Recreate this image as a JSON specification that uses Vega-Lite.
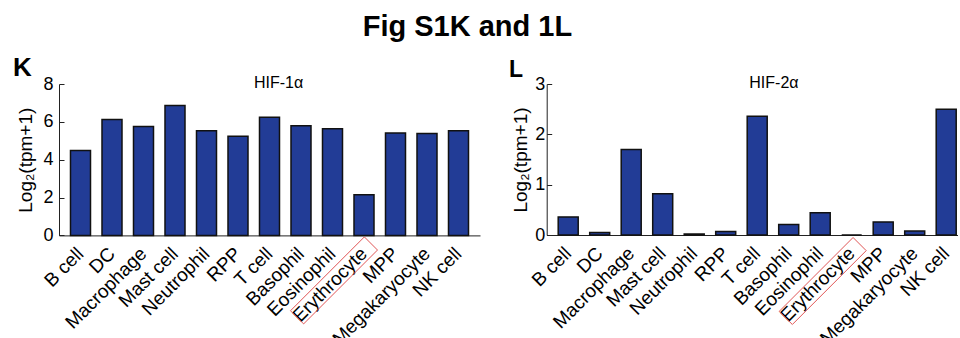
{
  "$schema": "https://vega.github.io/schema/vega-lite/v6.json",
  "background": "white",
  "padding": {"left": 13, "top": 13, "right": 0, "bottom": 0},
  "title": {"text": "Fig S1K and 1L", "fontSize": 29, "fontWeight": "bold", "font": "Liberation Sans", "anchor": "middle", "color": "#000", "offset": -10, "baseline": "alphabetic", "dx": -18},
  "datasets": {
    "hif1": [
      {"cell": "B cell", "value": 4.49},
      {"cell": "DC", "value": 6.13},
      {"cell": "Macrophage", "value": 5.76},
      {"cell": "Mast cell", "value": 6.87},
      {"cell": "Neutrophil", "value": 5.53},
      {"cell": "RPP", "value": 5.24},
      {"cell": "T cell", "value": 6.24},
      {"cell": "Basophil", "value": 5.80},
      {"cell": "Eosinophil", "value": 5.64},
      {"cell": "Erythrocyte", "value": 2.15},
      {"cell": "MPP", "value": 5.41},
      {"cell": "Megakaryocyte", "value": 5.38},
      {"cell": "NK cell", "value": 5.53}
    ],
    "hif2": [
      {"cell": "B cell", "value": 0.36},
      {"cell": "DC", "value": 0.05},
      {"cell": "Macrophage", "value": 1.70},
      {"cell": "Mast cell", "value": 0.82},
      {"cell": "Neutrophil", "value": 0.02},
      {"cell": "RPP", "value": 0.07},
      {"cell": "T cell", "value": 2.36},
      {"cell": "Basophil", "value": 0.21},
      {"cell": "Eosinophil", "value": 0.44},
      {"cell": "Erythrocyte", "value": 0},
      {"cell": "MPP", "value": 0.26},
      {"cell": "Megakaryocyte", "value": 0.08},
      {"cell": "NK cell", "value": 2.50}
    ]
  },
  "spacing": 28.7,
  "hconcat": [
    {
      "width": 421,
      "height": 151.4,
      "layer": [
        {
          "data": {"name": "hif1"},
          "mark": {"type": "bar", "fill": "#223c96", "stroke": "#111111", "strokeWidth": 1.5},
          "encoding": {
            "x": {"field": "cell", "type": "nominal",
              "scale": {"domain": ["B cell", "DC", "Macrophage", "Mast cell", "Neutrophil", "RPP", "T cell", "Basophil", "Eosinophil", "Erythrocyte", "MPP", "Megakaryocyte", "NK cell"], "paddingInner": 0.365, "paddingOuter": 0.365, "round": false},
              "axis": {"labelAngle": -45, "labelAlign": "right", "labelBaseline": "middle", "ticks": false, "labelPadding": 15, "labelFontSize": 19, "title": null, "labelOverlap": false, "labelBound": false}},
            "y": {"field": "value", "type": "quantitative",
              "scale": {"domain": [0, 8], "nice": false},
              "axis": {"values": [0, 2, 4, 6, 8], "tickCount": 5, "tickSize": -5, "labelPadding": 11, "labelOverlap": false, "labelFontSize": 18, "title": "Log₂(tpm+1)", "titleFontSize": 19, "titlePadding": 7}}
          }
        },
        {
          "data": {"name": "hif1"},
          "transform": [{"filter": "datum.cell === 'Erythrocyte'"}],
          "mark": {"type": "point", "shape": "M0.587,-0.841L0.841,-0.587L-0.587,0.841L-0.841,0.587Z", "size": 10700, "filled": false, "stroke": "#e05555", "strokeWidth": 1, "opacity": 1, "xOffset": -30, "yOffset": 45},
          "encoding": {
            "x": {"field": "cell", "type": "nominal"},
            "y": {"datum": 0, "type": "quantitative"}
          }
        },
        {
          "data": {"values": [{"gene": "HIF-1α"}]},
          "mark": {"type": "text", "fontSize": 16, "align": "center", "baseline": "alphabetic", "dx": 9, "dy": 4.4, "color": "#000"},
          "encoding": {
            "x": {"datum": "T cell", "type": "nominal"},
            "y": {"datum": 8, "type": "quantitative"},
            "text": {"field": "gene"}
          }
        },
        {
          "data": {"values": [{"panel": "K"}]},
          "mark": {"type": "text", "fontSize": 26, "fontWeight": "bold", "align": "left", "baseline": "alphabetic", "dx": -67.4, "dy": -7.6, "color": "#000"},
          "encoding": {
            "x": {"datum": "B cell", "type": "nominal"},
            "y": {"datum": 8, "type": "quantitative"},
            "text": {"field": "panel"}
          }
        }
      ]
    },
    {
      "width": 411,
      "height": 151,
      "layer": [
        {
          "data": {"name": "hif2"},
          "mark": {"type": "bar", "fill": "#223c96", "stroke": "#111111", "strokeWidth": 1.5},
          "encoding": {
            "x": {"field": "cell", "type": "nominal",
              "scale": {"domain": ["B cell", "DC", "Macrophage", "Mast cell", "Neutrophil", "RPP", "T cell", "Basophil", "Eosinophil", "Erythrocyte", "MPP", "Megakaryocyte", "NK cell"], "paddingInner": 0.365, "paddingOuter": 0.2063, "align": 0.885, "round": false},
              "axis": {"labelAngle": -45, "labelAlign": "right", "labelBaseline": "middle", "ticks": false, "labelPadding": 15, "labelFontSize": 19, "title": null, "labelOverlap": false, "labelBound": false}},
            "y": {"field": "value", "type": "quantitative",
              "scale": {"domain": [0, 3], "nice": false},
              "axis": {"values": [0, 1, 2, 3], "tickCount": 4, "tickSize": -5, "labelPadding": 7, "labelOverlap": false, "labelFontSize": 18, "title": "Log₂(tpm+1)", "titleFontSize": 19, "titlePadding": 4}}
          }
        },
        {
          "data": {"name": "hif2"},
          "transform": [{"filter": "datum.cell === 'Erythrocyte'"}],
          "mark": {"type": "point", "shape": "M0.587,-0.841L0.841,-0.587L-0.587,0.841L-0.841,0.587Z", "size": 10700, "filled": false, "stroke": "#e05555", "strokeWidth": 1, "opacity": 1, "xOffset": -29, "yOffset": 46},
          "encoding": {
            "x": {"field": "cell", "type": "nominal"},
            "y": {"datum": 0, "type": "quantitative"}
          }
        },
        {
          "data": {"values": [{"gene": "HIF-2α"}]},
          "mark": {"type": "text", "fontSize": 16, "align": "center", "baseline": "alphabetic", "dx": 16.7, "dy": 4.4, "color": "#000"},
          "encoding": {
            "x": {"datum": "T cell", "type": "nominal"},
            "y": {"datum": 3, "type": "quantitative"},
            "text": {"field": "gene"}
          }
        },
        {
          "data": {"values": [{"panel": "L"}]},
          "mark": {"type": "text", "fontSize": 23, "fontWeight": "bold", "align": "left", "baseline": "alphabetic", "dx": -59.3, "dy": -6.7, "color": "#000"},
          "encoding": {
            "x": {"datum": "B cell", "type": "nominal"},
            "y": {"datum": 3, "type": "quantitative"},
            "text": {"field": "panel"}
          }
        }
      ]
    }
  ],
  "config": {
    "font": "Liberation Sans",
    "view": {"stroke": null},
    "axis": {
      "grid": false,
      "domainColor": "#222222",
      "domainWidth": 1,
      "tickColor": "#222222",
      "labelColor": "#000000",
      "titleColor": "#000000",
      "labelFont": "Liberation Sans",
      "titleFont": "Liberation Sans",
      "labelFontSize": 17,
      "titleFontSize": 17,
      "titleFontWeight": "normal"
    }
  }
}
